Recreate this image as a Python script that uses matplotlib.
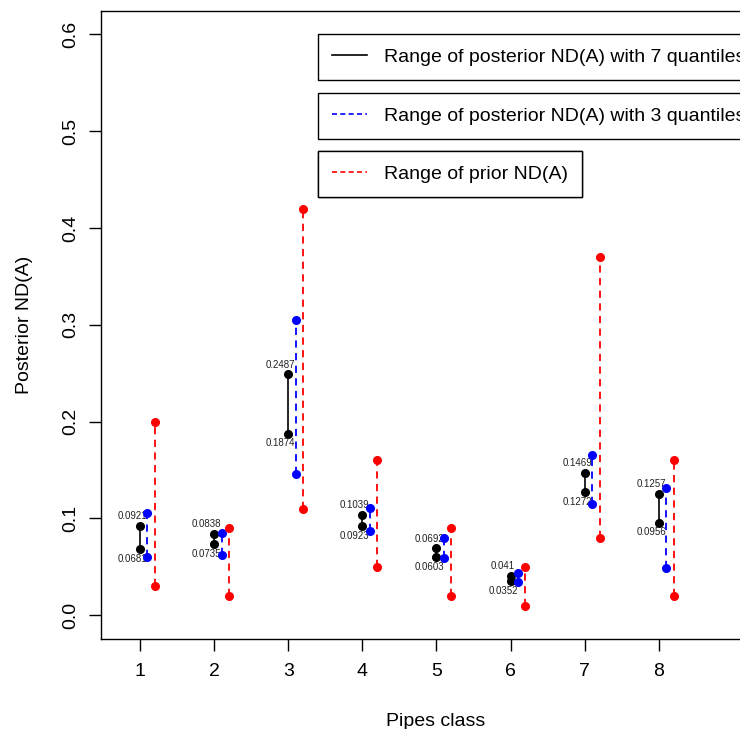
import matplotlib
matplotlib.use("Agg")
from matplotlib import pyplot as plt

plt.rcParams['font.family'] = ['Liberation Sans', 'DejaVu Sans']

# pipe classes and the three ranges (low / high) of ND(A)
classes = [1, 2, 3, 4, 5, 6, 7, 8]
post7_low = [0.0681, 0.0735, 0.1874, 0.0923, 0.0603, 0.0352, 0.1272, 0.0956]
post7_high = [0.0921, 0.0838, 0.2487, 0.1039, 0.0692, 0.041, 0.1469, 0.1257]
post3_low = [0.060, 0.062, 0.146, 0.087, 0.059, 0.034, 0.115, 0.049]
post3_high = [0.106, 0.085, 0.305, 0.111, 0.080, 0.044, 0.166, 0.131]
prior_low = [0.03, 0.02, 0.11, 0.05, 0.02, 0.01, 0.08, 0.02]
prior_high = [0.20, 0.09, 0.42, 0.16, 0.09, 0.05, 0.37, 0.16]
yticks = [0.0, 0.1, 0.2, 0.3, 0.4, 0.5, 0.6]

fig = plt.figure(figsize=(7.4, 7.29), dpi=100)
ax = fig.add_axes([101 / 740, 1 - 638.5 / 729, (770 - 101) / 740, (638.5 - 11) / 729])

dash = (0, (4, 3))
for i, c in enumerate(classes):
    # 7 quantiles, black
    ax.plot([c, c], [post7_low[i], post7_high[i]], color='black', lw=1.2, zorder=2)
    ax.plot([c, c], [post7_low[i], post7_high[i]], 'o', color='black', ms=5.5, zorder=3)
    ax.text(c - 0.1, post7_high[i] + 0.01, '%g' % post7_high[i], fontsize=7,
            ha='center', va='center', color='#222222', zorder=4)
    ax.text(c - 0.1, post7_low[i] - 0.01, '%g' % post7_low[i], fontsize=7,
            ha='center', va='center', color='#222222', zorder=4)
    # 3 quantiles, blue
    xb = c + 0.1
    ax.plot([xb, xb], [post3_low[i], post3_high[i]], color='blue', lw=1.3, ls=dash, zorder=5)
    ax.plot([xb, xb], [post3_low[i], post3_high[i]], 'o', color='blue', ms=5.5, zorder=6)
    # prior, red
    xr = c + 0.2
    ax.plot([xr, xr], [prior_low[i], prior_high[i]], color='red', lw=1.3, ls=dash, zorder=5)
    ax.plot([xr, xr], [prior_low[i], prior_high[i]], 'o', color='red', ms=5.5, zorder=6)

ax.set_xlim(0.474, 9.5)
ax.set_ylim(-0.024, 0.624)
ax.set_xticks(classes)
ax.set_yticks(yticks)
ax.set_yticklabels(['%.1f' % v for v in yticks], rotation=90, va='center')
ax.tick_params(axis='both', length=8.5, width=1, labelsize=14, pad=9)
ax.tick_params(axis='y', pad=7)
ax.set_xlabel("Pipes class", fontsize=14, labelpad=24)
ax.set_ylabel("Posterior ND(A)", fontsize=14, labelpad=21)
for s in ax.spines.values():
    s.set_linewidth(1)

# three separate legend boxes
leg_specs = [
    ("Range of posterior ND(A) with 7 quantiles", 'black', '-', 34),
    ("Range of posterior ND(A) with 3 quantiles", 'blue', (0, (3, 2)), 93),
    ("Range of prior ND(A)", 'red', (0, (3, 2)), 151),
]
for label, col, ls, top in leg_specs:
    h, = ax.plot([], [], color=col, ls=ls, lw=1.2)
    leg = ax.legend([h], [label], loc='upper left',
                    bbox_to_anchor=(318 / 740, 1 - top / 729),
                    bbox_transform=fig.transFigure, fontsize=14,
                    fancybox=False, framealpha=1, edgecolor='black',
                    borderpad=0.72, handlelength=1.8, handletextpad=0.85,
                    borderaxespad=0)
    leg.get_frame().set_linewidth(1)
    ax.add_artist(leg)

fig.savefig("out.png", dpi=100)
